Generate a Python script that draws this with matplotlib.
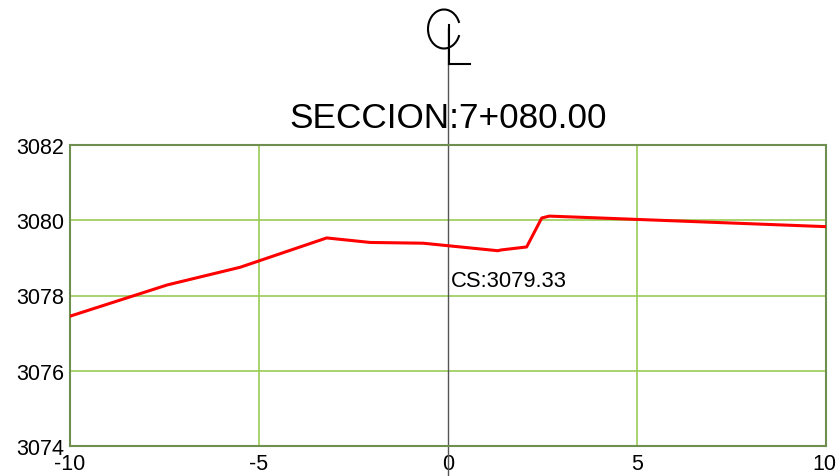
import matplotlib
matplotlib.use("Agg")
import matplotlib.pyplot as plt
import matplotlib.transforms as mtransforms
from matplotlib.patches import Arc
from matplotlib.lines import Line2D

plt.rcParams['font.family'] = ['Liberation Sans', 'DejaVu Sans']

# Ground profile (offset from centreline, elevation)
offset = [-10.0, -7.43, -5.50, -3.21, -2.06, -0.66, 1.32, 1.40, 2.08, 2.48, 2.68, 4.02, 10.0]
elev = [3077.45, 3078.28, 3078.75, 3079.53, 3079.41, 3079.39, 3079.19, 3079.21, 3079.29, 3080.06, 3080.11, 3080.06, 3079.83]

x_ticks = [-10, -5, 0, 5, 10]
y_ticks = [3074, 3076, 3078, 3080, 3082]
title = "SECCION:7+080.00"
cs_value = 3079.33

W, H = 836, 477
fig = plt.figure(figsize=(W / 100, H / 100), dpi=100)
ax = fig.add_axes([70 / W, 1 - 447 / H, (826 - 70) / W, (447 - 146) / H])

ax.set_xlim(-10, 10)
ax.set_ylim(3074, 3082)
ax.set_xticks(x_ticks)
ax.set_yticks(y_ticks)
ax.set_xticklabels([str(t) for t in x_ticks], fontsize=15.5)
ax.set_yticklabels([str(t) for t in y_ticks], fontsize=15.5)
ax.tick_params(axis='y', length=0, pad=4)
ax.tick_params(axis='x', length=0, pad=5)

# keep the last x label inside the canvas
last = ax.get_xticklabels()[-1]
last.set_transform(last.get_transform() +
                   mtransforms.ScaledTranslation(-2 / 100, 0, fig.dpi_scale_trans))

grid_c = '#99cc55'
for t in [-5, 5]:
    ax.axvline(t, color=grid_c, lw=1.2, zorder=1)
for t in [3076, 3078, 3080]:
    ax.axhline(t, color=grid_c, lw=1.2, zorder=1)
for s in ax.spines.values():
    s.set_color('#6f8f50')
    s.set_linewidth(1.5)

# centreline through the section
ax.plot([0, 0], [3073.2, 3085.1], color='#555555', lw=1.0, clip_on=False, zorder=2)

ax.plot(offset, elev, color='#ff0000', lw=2.2, zorder=3)

ax.text(0.08, 3078.4, f"CS:{cs_value:.2f}", fontsize=15.8, ha='left', va='center', zorder=4)

# centreline symbol
fig.add_artist(Arc((444 / W, 1 - 30 / H), 32 / W, 39 / H, theta1=35, theta2=325,
                   transform=fig.transFigure, color='black', lw=1.5))
fig.add_artist(Line2D([449 / W, 449 / W], [1 - 26 / H, 1 - 65 / H],
                      transform=fig.transFigure, color='black', lw=1.5))
fig.add_artist(Line2D([449 / W, 470 / W], [1 - 65 / H, 1 - 65 / H],
                      transform=fig.transFigure, color='black', lw=1.5))

fig.text(448 / W, 1 - 118 / H, title, fontsize=25.3, ha='center', va='center')

fig.savefig("out.png", dpi=100, facecolor='white')
